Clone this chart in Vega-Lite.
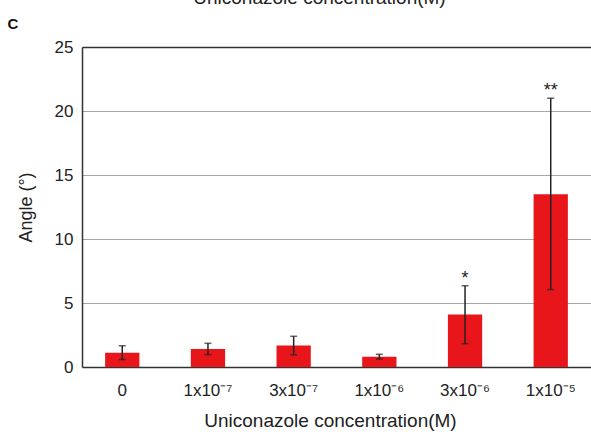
{
  "$schema": "https://vega.github.io/schema/vega-lite/v6.json",
  "width": 509,
  "height": 320,
  "autosize": {"type": "none"},
  "padding": {"left": 82, "top": 47, "right": 0, "bottom": 73},
  "background": "white",
  "config": {
    "view": {"stroke": null},
    "font": "Liberation Sans"
  },
  "title": {
    "text": "Uniconazole concentration(M)",
    "anchor": "middle",
    "frame": "group",
    "dx": -17,
    "dy": 21,
    "fontSize": 19,
    "fontWeight": "normal",
    "color": "#222",
    "baseline": "alphabetic",
    "offset": 14
  },
  "data": {
    "values": [
      {"conc": "0", "angle": 1.12, "lo": 0.58, "hi": 1.66, "sig": ""},
      {"conc": "1x10⁻⁷", "angle": 1.41, "lo": 0.97, "hi": 1.85, "sig": ""},
      {"conc": "3x10⁻⁷", "angle": 1.67, "lo": 0.94, "hi": 2.4, "sig": ""},
      {"conc": "1x10⁻⁶", "angle": 0.8, "lo": 0.62, "hi": 0.99, "sig": ""},
      {"conc": "3x10⁻⁶", "angle": 4.11, "lo": 1.82, "hi": 6.35, "sig": "*"},
      {"conc": "1x10⁻⁵", "angle": 13.5, "lo": 6.05, "hi": 21.0, "sig": "**"}
    ]
  },
  "layer": [
    {
      "mark": {"type": "bar", "color": "#e8161b"},
      "encoding": {
        "x": {
          "field": "conc",
          "type": "nominal",
          "sort": null,
          "scale": {"paddingInner": 0.6, "paddingOuter": 0.27},
          "axis": {
            "orient": "bottom",
            "title": "Uniconazole concentration(M)",
            "titleFontSize": 19,
            "titleFontWeight": "normal",
            "titleColor": "#222",
            "titlePadding": 13,
            "titleX": 248,
            "labelAngle": 0,
            "labelFontSize": 17,
            "labelColor": "#222",
            "labelPadding": 15,
            "ticks": false,
            "domainColor": "#333",
            "domainWidth": 1.5,
            "grid": false
          }
        },
        "y": {
          "field": "angle",
          "type": "quantitative",
          "title": "Angle (°)",
          "scale": {"domain": [0, 25], "nice": false},
          "axis": {
            "titleFontSize": 18,
            "titleFontWeight": "normal",
            "titleColor": "#222",
            "titlePadding": 19,
            "values": [0, 5, 10, 15, 20, 25],
            "labelFontSize": 17,
            "labelColor": "#222",
            "labelPadding": 9,
            "ticks": false,
            "domainColor": "#333",
            "domainWidth": 1.5,
            "grid": true,
            "gridColor": "#a6a6a6",
            "gridWidth": 1
          }
        }
      }
    },
    {
      "mark": {
        "type": "errorbar",
        "color": "#222",
        "thickness": 1.5,
        "ticks": {"size": 7, "thickness": 1.5, "color": "#222"}
      },
      "encoding": {
        "x": {
          "field": "conc",
          "type": "nominal",
          "sort": null,
          "axis": {
            "orient": "top",
            "labels": false,
            "ticks": false,
            "grid": false,
            "domainColor": "#333",
            "domainWidth": 1.5,
            "title": "C",
            "titleX": -75,
            "titleY": -19,
            "titleAlign": "left",
            "titleBaseline": "alphabetic",
            "titleFontSize": 15,
            "titleFontWeight": "bold",
            "titleColor": "#111"
          }
        },
        "y": {"field": "lo", "type": "quantitative", "title": "Angle (°)"},
        "y2": {"field": "hi"}
      }
    },
    {
      "mark": {"type": "text", "fontSize": 18, "baseline": "alphabetic", "dy": -2, "color": "#222"},
      "encoding": {
        "x": {"field": "conc", "type": "nominal", "sort": null, "axis": null},
        "y": {"field": "hi", "type": "quantitative", "title": "Angle (°)"},
        "text": {"field": "sig"}
      }
    }
  ],
  "resolve": {"axis": {"x": "independent"}}
}
